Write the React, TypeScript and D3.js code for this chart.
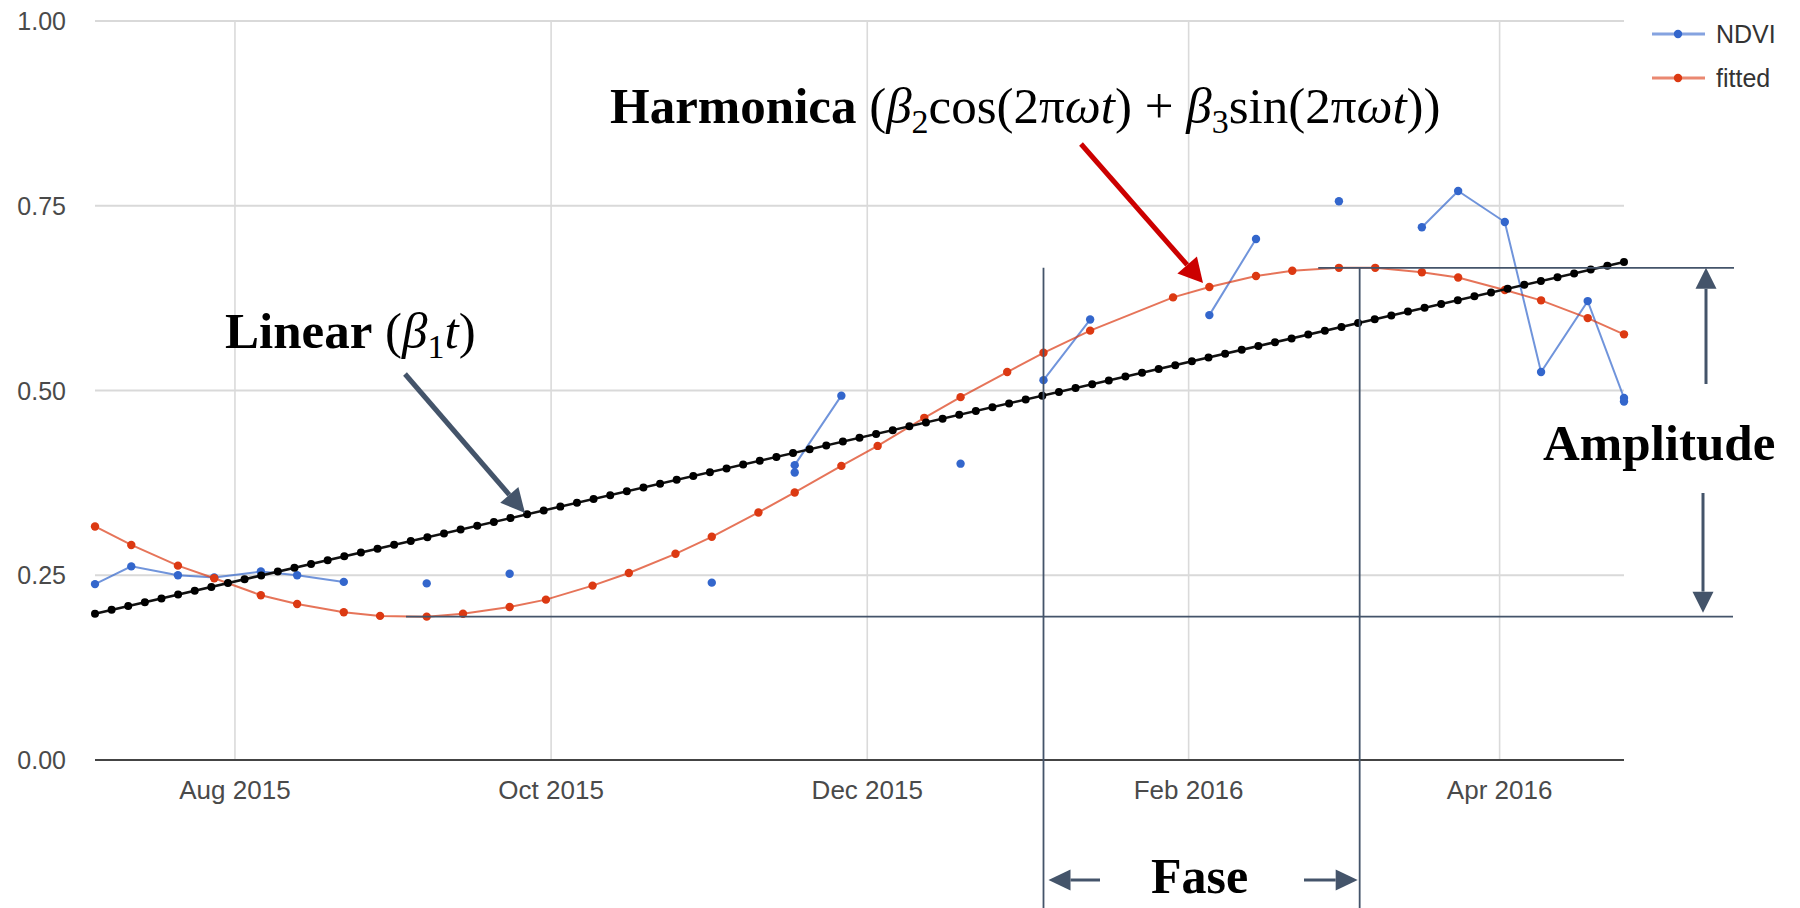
import React, { useEffect } from 'react';
import * as d3 from 'd3';

// NDVI observations (null = cloudy / missing, breaks the line)
const ndviDates = [
  '2015-07-05', '2015-07-12', '2015-07-21', '2015-07-28', '2015-08-06', '2015-08-13',
  '2015-08-22', '2015-08-29', '2015-09-07', '2015-09-14', '2015-09-23', '2015-09-30',
  '2015-10-25', '2015-11-01', '2015-11-10', '2015-11-17', '2015-11-17', '2015-11-26',
  '2015-12-03', '2015-12-19', '2015-12-28', '2016-01-04', '2016-01-13', '2016-01-29',
  '2016-02-05', '2016-02-14', '2016-02-21', '2016-03-01', '2016-03-08', '2016-03-17',
  '2016-03-24', '2016-04-02', '2016-04-09', '2016-04-18', '2016-04-25', '2016-04-25',
];
const ndviValues: (number | null)[] = [
  0.238, 0.262, 0.250, 0.247, 0.255, 0.250,
  0.241, null, 0.239, null, 0.252, null,
  null, 0.240, null, 0.389, 0.399, 0.493,
  null, 0.401, null, 0.514, 0.596, null,
  0.602, 0.705, null, 0.756, null, 0.721,
  0.770, 0.728, 0.525, 0.621, 0.490, 0.485,
];

// harmonic fit
const fittedDates = [
  '2015-07-05', '2015-07-12', '2015-07-21', '2015-07-28', '2015-08-06', '2015-08-13',
  '2015-08-22', '2015-08-29', '2015-09-07', '2015-09-14', '2015-09-23', '2015-09-30',
  '2015-10-09', '2015-10-16', '2015-10-25', '2015-11-01', '2015-11-10', '2015-11-17',
  '2015-11-26', '2015-12-03', '2015-12-12', '2015-12-19', '2015-12-28', '2016-01-04',
  '2016-01-13', '2016-01-29', '2016-02-05', '2016-02-14', '2016-02-21', '2016-03-01',
  '2016-03-08', '2016-03-17', '2016-03-24', '2016-04-02', '2016-04-09', '2016-04-18',
  '2016-04-25',
];
const fittedValues = [
  0.316, 0.291, 0.263, 0.246, 0.223, 0.211,
  0.200, 0.195, 0.194, 0.198, 0.207, 0.217,
  0.236, 0.253, 0.279, 0.302, 0.335, 0.362,
  0.398, 0.425, 0.463, 0.491, 0.525, 0.551,
  0.581, 0.626, 0.640, 0.655, 0.662, 0.666,
  0.666, 0.660, 0.653, 0.636, 0.622, 0.598,
  0.576,
];

// linear trend (endpoints)
const linearDates = ['2015-07-05', '2016-04-25'];
const linearValues = [0.198, 0.674];

const xTicks = ['2015-08-01', '2015-10-01', '2015-12-01', '2016-02-01', '2016-04-01'];
const yTicks = [0, 0.25, 0.5, 0.75, 1];
const seriesNames = ['NDVI', 'fitted'];

// annotation anchors
const phaseDates = ['2016-01-04', '2016-03-05'];
const amplitudeStartDates = ['2015-09-03', '2016-02-26'];

const W = 1800;
const H = 908;
const BLUE = '#3366cc';
const RED = '#dc3912';
const SLATE = '#44546a';
const SERIF = '"Liberation Serif", "Times New Roman", serif';
const SANS = '"Liberation Sans", Arial, sans-serif';

const parse = d3.timeParse('%Y-%m-%d');

function Arrow({ x1, y1, x2, y2, color, width, headLen, headW }: any) {
  const a = Math.atan2(y2 - y1, x2 - x1);
  const bx = x2 - headLen * Math.cos(a);
  const by = y2 - headLen * Math.sin(a);
  const px = Math.sin(a) * headW / 2;
  const py = -Math.cos(a) * headW / 2;
  return (
    <g>
      <line x1={x1} y1={y1} x2={bx} y2={by} stroke={color} strokeWidth={width} />
      <polygon points={`${x2},${y2} ${bx + px},${by + py} ${bx - px},${by - py}`} fill={color} />
    </g>
  );
}

export default function App() {
  useEffect(() => {
    document.body.style.margin = '0';
  }, []);

  const x = d3.scaleTime()
    .domain([parse('2015-07-05')!, parse('2016-04-25')!])
    .range([95, 1624]);
  const y = d3.scaleLinear().domain([0, 1]).range([760, 21]);

  const ndvi = ndviDates.map((d, i) => ({ date: parse(d)!, value: ndviValues[i] }));
  const fitted = fittedDates.map((d, i) => ({ date: parse(d)!, value: fittedValues[i] }));

  const line = d3.line<{ date: Date; value: number | null }>()
    .defined(d => d.value !== null)
    .x(d => x(d.date))
    .y(d => y(d.value as number));

  // linear trend drawn as a dotted line
  const lx1 = x(parse(linearDates[0])!);
  const lx2 = x(parse(linearDates[1])!);
  const ly1 = y(linearValues[0]);
  const ly2 = y(linearValues[1]);
  const len = Math.hypot(lx2 - lx1, ly2 - ly1);
  const nDots = Math.round((lx2 - lx1) / 16.6);
  const gap = len / nDots;

  const fMin = d3.min(fittedValues)!;
  const fMax = d3.max(fittedValues)!;
  const yLow = y(fMin);
  const yHigh = y(fMax);
  const ph1 = x(parse(phaseDates[0])!);
  const ph2 = x(parse(phaseDates[1])!);
  const ampX = 1706;

  const fmtX = d3.timeFormat('%b %Y');
  const fmtY = d3.format('.2f');

  return (
    <svg width={W} height={H} style={{ position: 'absolute', left: 0, top: 0, background: '#fff' }}>
      <rect width={W} height={H} fill="#fff" />

      {/* gridlines */}
      {yTicks.filter(t => t > 0).map(t => (
        <line key={t} x1={95} x2={1624} y1={y(t)} y2={y(t)} stroke="#d9d9d9" strokeWidth={2} />
      ))}
      {xTicks.map(t => (
        <line key={t} x1={x(parse(t)!)} x2={x(parse(t)!)} y1={21} y2={760} stroke="#dadada" strokeWidth={1.6} />
      ))}
      <line x1={95} x2={1624} y1={y(0)} y2={y(0)} stroke="#444" strokeWidth={2} />

      {/* axis labels */}
      {yTicks.map(t => (
        <text key={t} x={66} y={y(t)} dy="0.36em" textAnchor="end" fontFamily={SANS} fontSize={25} fill="#4a4a4a">
          {fmtY(t)}
        </text>
      ))}
      {xTicks.map(t => (
        <text key={t} x={x(parse(t)!)} y={799} textAnchor="middle" fontFamily={SANS} fontSize={26} fill="#4a4a4a">
          {fmtX(parse(t)!)}
        </text>
      ))}

      {/* NDVI */}
      <path d={line(ndvi) || ''} fill="none" stroke={BLUE} strokeOpacity={0.7} strokeWidth={2} />
      {ndvi.filter(d => d.value !== null).map((d, i) => (
        <circle key={i} cx={x(d.date)} cy={y(d.value as number)} r={4.2} fill={BLUE} />
      ))}

      {/* fitted */}
      <path d={line(fitted) || ''} fill="none" stroke={RED} strokeOpacity={0.7} strokeWidth={2} />
      {fitted.map((d, i) => (
        <circle key={i} cx={x(d.date)} cy={y(d.value)} r={4.2} fill={RED} />
      ))}

      {/* linear trend */}
      <line x1={lx1} y1={ly1} x2={lx2} y2={ly2} stroke="#111" strokeWidth={2.5} />
      <line x1={lx1} y1={ly1} x2={lx2} y2={ly2} stroke="#000" strokeWidth={8}
        strokeLinecap="round" strokeDasharray={`0 ${gap}`} />

      {/* legend */}
      {seriesNames.map((s, i) => (
        <g key={s} transform={`translate(1652, ${34 + i * 44})`}>
          <line x1={0} x2={53} y1={0} y2={0} stroke={i === 0 ? BLUE : RED} strokeOpacity={0.6} strokeWidth={3} />
          <circle cx={26} cy={0} r={4.2} fill={i === 0 ? BLUE : RED} />
          <text x={64} y={0} dy="0.35em" fontFamily={SANS} fontSize={25} fill="#333">{s}</text>
        </g>
      ))}

      {/* amplitude reference lines */}
      <line x1={x(parse(amplitudeStartDates[0])!)} x2={1733} y1={yLow} y2={yLow} stroke={SLATE} strokeWidth={1.8} />
      <line x1={x(parse(amplitudeStartDates[1])!)} x2={1734} y1={yHigh} y2={yHigh} stroke={SLATE} strokeWidth={1.8} />

      {/* phase lines */}
      <line x1={ph1} x2={ph1} y1={yHigh} y2={H} stroke={SLATE} strokeWidth={1.8} />
      <line x1={ph2} x2={ph2} y1={yHigh} y2={H} stroke={SLATE} strokeWidth={1.8} />

      {/* arrows */}
      <Arrow x1={1081} y1={144} x2={1203} y2={283} color="#cc0000" width={5} headLen={24} headW={26} />
      <Arrow x1={405} y1={374} x2={525} y2={513} color={SLATE} width={5} headLen={24} headW={24} />
      <Arrow x1={ampX} y1={384} x2={ampX} y2={yHigh} color={SLATE} width={3} headLen={21} headW={21} />
      <Arrow x1={ampX - 3} y1={493} x2={ampX - 3} y2={yLow - 4} color={SLATE} width={3} headLen={21} headW={21} />
      <Arrow x1={1100} y1={880} x2={ph1 + 5} y2={880} color={SLATE} width={3} headLen={22} headW={21} />
      <Arrow x1={1304} y1={880} x2={ph2 - 2} y2={880} color={SLATE} width={3} headLen={22} headW={21} />

      {/* annotation texts */}
      <text x={610} y={123} fontFamily={SERIF} fontSize={51} fill="#000" style={{ whiteSpace: 'pre' }}>
        <tspan fontWeight="bold">Harmonica</tspan>
        <tspan> (</tspan>
        <tspan fontStyle="italic">β</tspan>
        <tspan fontSize={34} dy={10}>2</tspan>
        <tspan dy={-10}>cos(2π</tspan>
        <tspan fontStyle="italic">ωt</tspan>
        <tspan>) + </tspan>
        <tspan fontStyle="italic">β</tspan>
        <tspan fontSize={34} dy={10}>3</tspan>
        <tspan dy={-10}>sin(2π</tspan>
        <tspan fontStyle="italic">ωt</tspan>
        <tspan>))</tspan>
      </text>
      <text x={225} y={348} fontFamily={SERIF} fontSize={51} fill="#000" style={{ whiteSpace: 'pre' }}>
        <tspan fontWeight="bold">Linear</tspan>
        <tspan> (</tspan>
        <tspan fontStyle="italic">β</tspan>
        <tspan fontSize={34} dy={10}>1</tspan>
        <tspan dy={-10} fontStyle="italic">t</tspan>
        <tspan>)</tspan>
      </text>
      <text x={1543} y={460} fontFamily={SERIF} fontSize={51} fontWeight="bold" fill="#000">Amplitude</text>
      <text x={1151} y={893} fontFamily={SERIF} fontSize={50} fontWeight="bold" fill="#000">Fase</text>
    </svg>
  );
}
